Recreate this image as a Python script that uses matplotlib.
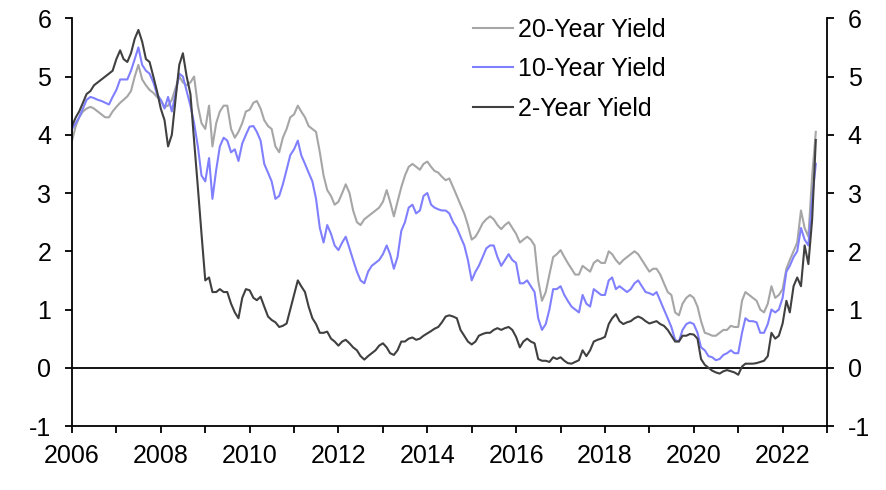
import matplotlib
matplotlib.use("Agg")
import matplotlib.pyplot as plt
import matplotlib.dates as mdates
import pandas as pd

plt.rcParams['font.family'] = ['Liberation Sans', 'DejaVu Sans']
plt.rcParams['axes.unicode_minus'] = False

# Monthly observations, Jan 2006 .. Oct 2022
dates = pd.date_range('2006-01-01', '2022-10-01', freq='MS')

yield_2y = [
    4.15, 4.3, 4.4, 4.55, 4.7, 4.75, 4.85, 4.9, 4.95, 5.0, 5.05, 5.1,
    5.3, 5.45, 5.3, 5.25, 5.4, 5.65, 5.8, 5.6, 5.3, 5.25, 5.0, 4.75,
    4.45, 4.25, 3.8, 4.0, 4.6, 5.2, 5.4, 5.0, 4.7, 3.9, 3.1, 2.3,
    1.5, 1.55, 1.3, 1.3, 1.35, 1.3, 1.3, 1.1, 0.95, 0.85, 1.2, 1.35,
    1.33, 1.2, 1.16, 1.22, 1.05, 0.88, 0.82, 0.78, 0.7, 0.72, 0.76, 1.0,
    1.25, 1.5, 1.4, 1.3, 1.05, 0.85, 0.75, 0.6, 0.6, 0.62, 0.5, 0.45,
    0.38, 0.45, 0.48, 0.42, 0.35, 0.3, 0.2, 0.14, 0.2, 0.25, 0.3, 0.38,
    0.42, 0.35, 0.25, 0.22, 0.3, 0.45, 0.45, 0.5, 0.52, 0.48, 0.5, 0.55,
    0.59, 0.63, 0.67, 0.7, 0.78, 0.88, 0.9, 0.88, 0.85, 0.65, 0.55, 0.45,
    0.40, 0.45, 0.55, 0.58, 0.6, 0.6, 0.65, 0.68, 0.65, 0.68, 0.7, 0.65,
    0.53, 0.35, 0.45, 0.5, 0.45, 0.42, 0.15, 0.12, 0.12, 0.1, 0.18, 0.15,
    0.18, 0.12, 0.08, 0.07, 0.1, 0.13, 0.3, 0.2, 0.3, 0.45, 0.48, 0.5,
    0.53, 0.75, 0.85, 0.92, 0.8, 0.75, 0.78, 0.8, 0.85, 0.88, 0.85, 0.8,
    0.76, 0.78, 0.8, 0.75, 0.72, 0.65, 0.55, 0.45, 0.45, 0.55, 0.55, 0.58,
    0.57, 0.5, 0.15, 0.05, 0.0, -0.05, -0.08, -0.1, -0.06, -0.04, -0.06, -0.08,
    -0.12, 0.02, 0.07, 0.07, 0.07, 0.08, 0.1, 0.12, 0.2, 0.6, 0.5, 0.55,
    0.76, 1.15, 0.95, 1.4, 1.55, 1.4, 2.1, 1.78, 2.55, 3.91,
]

yield_10y = [
    4.1, 4.2, 4.3, 4.45, 4.6, 4.65, 4.63, 4.6, 4.58, 4.55, 4.52, 4.65,
    4.77, 4.95, 4.95, 4.95, 5.1, 5.3, 5.5, 5.2, 5.1, 5.05, 4.9, 4.7,
    4.6, 4.45, 4.65, 4.4, 4.7, 5.05, 5.0, 4.75, 4.5, 4.2, 3.8, 3.3,
    3.2, 3.6, 2.9, 3.4, 3.8, 3.95, 3.9, 3.7, 3.75, 3.55, 3.85, 4.0,
    4.14, 4.15, 4.05, 3.9, 3.5, 3.35, 3.2, 2.9, 2.95, 3.15, 3.4, 3.65,
    3.75, 3.9, 3.65, 3.5, 3.35, 3.2, 2.9, 2.4, 2.15, 2.45, 2.3, 2.1,
    2.02, 2.15, 2.25, 2.05, 1.85, 1.65, 1.5, 1.45, 1.65, 1.75, 1.8, 1.85,
    1.95, 2.1, 1.95, 1.7, 1.9, 2.35, 2.5, 2.75, 2.8, 2.65, 2.7, 2.95,
    3.0, 2.8, 2.75, 2.72, 2.7, 2.7, 2.65, 2.5, 2.4, 2.25, 2.1, 1.85,
    1.5, 1.65, 1.75, 1.9, 2.05, 2.1, 2.1, 1.9, 1.75, 1.85, 1.95, 1.85,
    1.8, 1.45, 1.45, 1.5, 1.4, 1.3, 0.85, 0.65, 0.75, 1.0, 1.35, 1.35,
    1.4, 1.25, 1.15, 1.05, 1.0, 0.95, 1.25, 1.1, 1.05, 1.35, 1.3, 1.25,
    1.25, 1.5, 1.55, 1.35, 1.4, 1.35, 1.3, 1.35, 1.45, 1.5, 1.4, 1.3,
    1.28, 1.25, 1.3, 1.15, 1.0, 0.85, 0.7, 0.48, 0.45, 0.65, 0.75, 0.78,
    0.75, 0.6, 0.35, 0.3, 0.2, 0.18, 0.13, 0.15, 0.22, 0.25, 0.3, 0.25,
    0.25, 0.6, 0.85, 0.8, 0.8, 0.78, 0.6, 0.6, 0.75, 1.0, 0.95, 1.0,
    1.2, 1.65, 1.75, 1.9, 2.0, 2.4, 2.2, 2.1, 2.9, 3.5,
]

yield_20y = [
    3.9, 4.15, 4.3, 4.4, 4.45, 4.48, 4.45, 4.4, 4.35, 4.3, 4.3, 4.4,
    4.48, 4.55, 4.6, 4.66, 4.75, 5.0, 5.2, 4.95, 4.85, 4.77, 4.72, 4.65,
    4.6, 4.48, 4.5, 4.6, 4.8, 5.0, 4.9, 4.85, 4.9, 5.0, 4.5, 4.2,
    4.1, 4.5, 3.8, 4.2, 4.4, 4.5, 4.5, 4.1, 3.95, 4.05, 4.2, 4.4,
    4.43, 4.55, 4.58, 4.45, 4.25, 4.15, 4.1, 3.8, 3.7, 3.95, 4.1, 4.3,
    4.35, 4.5, 4.4, 4.3, 4.15, 4.1, 4.05, 3.7, 3.3, 3.05, 2.95, 2.8,
    2.85, 3.0, 3.15, 3.0, 2.7, 2.5, 2.45, 2.55, 2.6, 2.65, 2.7, 2.75,
    2.85, 3.05, 2.85, 2.6, 2.85, 3.1, 3.3, 3.45, 3.5, 3.45, 3.4, 3.5,
    3.54, 3.45, 3.38, 3.35, 3.28, 3.22, 3.25, 3.1, 2.95, 2.8, 2.65, 2.45,
    2.2, 2.25, 2.35, 2.48, 2.55, 2.6, 2.55, 2.45, 2.38, 2.45, 2.5, 2.4,
    2.3, 2.15, 2.2, 2.25, 2.2, 2.1, 1.5, 1.15, 1.3, 1.6, 1.9, 1.95,
    2.02, 1.9, 1.8, 1.7, 1.6, 1.6, 1.75, 1.7, 1.65, 1.8, 1.85, 1.8,
    1.8, 2.0, 1.95, 1.85, 1.78, 1.85, 1.9, 1.95, 2.0, 1.95, 1.85, 1.75,
    1.65, 1.7, 1.7, 1.6, 1.45, 1.3, 1.25, 0.95, 0.9, 1.1, 1.2, 1.25,
    1.2, 1.05, 0.8, 0.6, 0.58, 0.55, 0.55, 0.6, 0.65, 0.65, 0.72, 0.7,
    0.7, 1.15, 1.3, 1.25, 1.2, 1.15, 1.0, 0.95, 1.1, 1.4, 1.2, 1.25,
    1.35, 1.7, 1.85, 2.0, 2.15, 2.7, 2.4, 2.25, 3.3, 4.05,
]

series_labels = ['20-Year Yield', '10-Year Yield', '2-Year Yield']
series_colors = ['#a6a6a6', '#8080ff', '#404040']
y_ticks = [-1, 0, 1, 2, 3, 4, 5, 6]

FS = 18

fig = plt.figure(figsize=(8.86, 4.90), dpi=100)
ax = fig.add_axes([72 / 886, 1 - 426 / 490, (827 - 72) / 886, (426 - 18.3) / 490])

for vals, lab, col in zip([yield_20y, yield_10y, yield_2y], series_labels, series_colors):
    ax.plot(dates, vals, color=col, lw=1.5, label=lab)

ax.axhline(0, color='black', lw=1.3, zorder=1)

ax.set_xlim(pd.Timestamp('2006-01-01'), pd.Timestamp('2023-01-01'))
ax.set_ylim(-1, 6)
ax.set_yticks(y_ticks)
ax.set_yticklabels([str(t) for t in y_ticks])

ax.xaxis.set_major_locator(mdates.YearLocator(1))
ax.xaxis.set_major_formatter(
    plt.FuncFormatter(lambda x, p: (str(mdates.num2date(x).year)
                                    if mdates.num2date(x).year % 2 == 0 and mdates.num2date(x).year < 2023 else '')))

ax.spines['top'].set_visible(False)
for s in ['left', 'right', 'bottom']:
    ax.spines[s].set_linewidth(1.3)
    ax.spines[s].set_color('black')

ax.tick_params(axis='both', direction='out', length=5, width=1.3, labelsize=FS, colors='black')
ax.tick_params(axis='x', pad=8)
ax.tick_params(axis='y', pad=10)

ax2 = ax.twinx()
ax2.set_ylim(-1, 6)
ax2.set_yticks(y_ticks)
ax2.set_yticklabels([str(t) for t in y_ticks])
for s in ['top', 'left', 'bottom', 'right']:
    ax2.spines[s].set_visible(False)
ax2.tick_params(axis='y', direction='out', length=5, width=1.3, labelsize=FS, pad=10, colors='black')

leg = ax.legend(loc='upper left', bbox_to_anchor=(0.518, 1.026), frameon=False,
                fontsize=FS, handlelength=1.6, handletextpad=0.2, labelspacing=0.62,
                borderaxespad=0.0)

fig.savefig('out.png', dpi=100)
